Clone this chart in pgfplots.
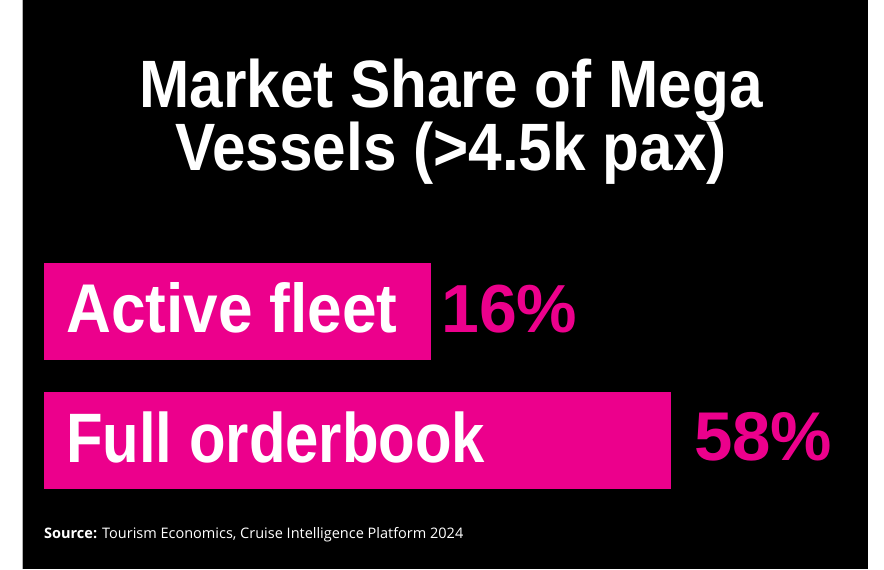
\documentclass[border=0pt]{standalone}
\usepackage{pgfplots}
\pgfplotsset{compat=1.18}
\usepackage{fontspec}
\setmainfont{Liberation Sans}
\newfontfamily\titlefont[FakeStretch=0.9]{Liberation Sans}
\newfontfamily\catfontA[FakeStretch=0.9]{Liberation Sans}
\newfontfamily\catfontB[FakeStretch=0.855]{Liberation Sans}
\newfontfamily\pctfont{Liberation Sans}
\newfontfamily\srcfont{Open Sans}
\definecolor{mag}{HTML}{EC008C}
\begin{document}
\begin{tikzpicture}[x=1pt,y=1pt]
\fill[white] (0,0) rectangle (884,569);
\fill[black] (22.5,0) rectangle (867.5,569);
\draw[gray!60,line width=0.8pt] (22.5,0) -- (22.5,569);
% title
\node[anchor=base,text=white,inner sep=0pt,font=\titlefont\bfseries\fontsize{67}{67}\selectfont] at (451,462.3) {Market Share of Mega};
\node[anchor=base,text=white,inner sep=0pt,font=\titlefont\bfseries\fontsize{67}{67}\selectfont] at (451,399) {Vessels (>4.5k pax)};
\begin{axis}[
  at={(45pt,64pt)}, anchor=south west,
  scale only axis, width=800pt, height=258.6pt,
  xmin=0, xmax=140, ymin=-0.5, ymax=1.5,
  hide axis, clip=false,
  xbar stacked, bar width=96pt,
]
% fixed lead-in segment (bars in the source are not drawn to scale)
\addplot[fill=mag, draw=mag, line width=0pt] coordinates {(51.4,0) (51.4,1)};
% values: Full orderbook = 58, Active fleet = 16
\addplot[fill=mag, draw=mag, line width=0pt] coordinates {(58,0) (16,1)};
\end{axis}
% labels
\node[anchor=base west, inner sep=0pt, text=white, font=\catfontA\bfseries\fontsize{69}{69}\selectfont]
  at (66,237.3) {Active fleet};
\node[anchor=base west, inner sep=0pt, text=white, font=\catfontB\bfseries\fontsize{70}{70}\selectfont]
  at (66,107) {Full orderbook};
\node[anchor=base west, inner sep=0pt, text=mag, font=\pctfont\bfseries\fontsize{68}{68}\selectfont]
  at (441,237.3) {16\%};
\node[anchor=base west, inner sep=0pt, text=mag, font=\pctfont\bfseries\fontsize{69}{69}\selectfont]
  at (694,109) {58\%};
\node[anchor=base west, inner sep=0pt, text=white, font=\srcfont\fontsize{14.5}{14.5}\selectfont]
  at (44,31.3) {\textbf{Source:} Tourism Economics, Cruise Intelligence Platform 2024};
\end{tikzpicture}
\end{document}
